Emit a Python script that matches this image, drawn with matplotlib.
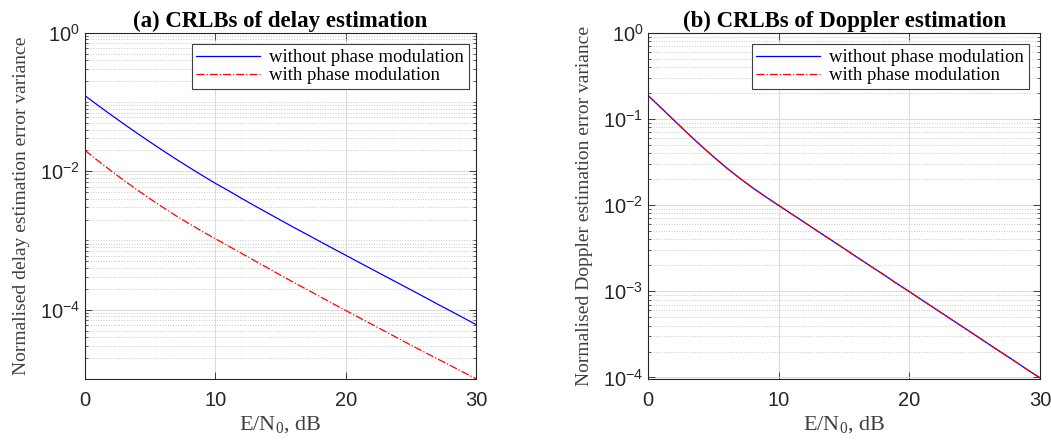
import matplotlib
matplotlib.use('Agg')
import matplotlib.pyplot as plt
from matplotlib.ticker import LogLocator, NullFormatter

plt.rcParams['font.family'] = ['Liberation Sans', 'DejaVu Sans']

# E/N0 in dB, 0..30
snr_db = list(range(31))

# (a) delay CRLB
delay_without = [0.1230, 0.0891, 0.0650, 0.04775, 0.03532, 0.02630, 0.01972,
                 0.01489, 0.01132, 0.00867, 0.00668, 0.00524, 0.00407, 0.00318,
                 0.00250, 0.00197, 0.00155, 0.00123, 9.73e-4, 7.71e-4, 6.12e-4,
                 4.86e-4, 3.86e-4, 3.07e-4, 2.44e-4, 1.94e-4, 1.54e-4, 1.22e-4,
                 9.7e-5, 7.7e-5, 6.12e-5]
delay_with = [0.01995, 0.01413, 0.01012, 0.00733, 0.00537, 0.00398, 0.00299,
              0.00226, 0.00174, 0.00135, 0.00106, 8.32e-4, 6.53e-4, 5.13e-4,
              4.03e-4, 3.16e-4, 2.49e-4, 1.97e-4, 1.56e-4, 1.23e-4, 9.77e-5,
              7.76e-5, 6.17e-5, 4.90e-5, 3.89e-5, 3.09e-5, 2.47e-5, 1.97e-5,
              1.58e-5, 1.26e-5, 1.01e-5]

# (b) Doppler CRLB, both curves lie on top of each other
doppler_without = [0.1862, 0.1334, 0.0955, 0.0684, 0.0495, 0.0363, 0.0270,
                   0.0205, 0.01585, 0.01245, 0.00989, 0.00785, 0.00624, 0.00495,
                   0.00394, 0.00313, 0.00248, 0.00197, 0.00157, 0.00124, 9.89e-4,
                   7.85e-4, 6.24e-4, 4.95e-4, 3.94e-4, 3.13e-4, 2.48e-4, 1.97e-4,
                   1.57e-4, 1.24e-4, 9.9e-5]
doppler_with = [0.1862, 0.1334, 0.0955, 0.0684, 0.0495, 0.0363, 0.0270,
                0.0205, 0.01585, 0.01245, 0.00989, 0.00785, 0.00624, 0.00495,
                0.00394, 0.00313, 0.00248, 0.00197, 0.00157, 0.00124, 9.89e-4,
                7.85e-4, 6.24e-4, 4.95e-4, 3.94e-4, 3.13e-4, 2.48e-4, 1.97e-4,
                1.57e-4, 1.24e-4, 9.9e-5]

legend_labels = ['without phase modulation', 'with phase modulation']
x_ticks = [0, 10, 20, 30]

axcol = '#262626'
serif = ['Liberation Serif', 'DejaVu Serif']

fig = plt.figure(figsize=(10.51, 4.41), dpi=100)
ax1 = fig.add_axes([0.0809, 0.1406, 0.372, 0.7853])
ax2 = fig.add_axes([0.6168, 0.1406, 0.3727, 0.7853])


def style(ax, yticks, ylim, title, ylabel, leg_x):
    ax.set_yscale('log')
    ax.set_xlim(0, 30)
    ax.set_ylim(*ylim)
    ax.set_xticks(x_ticks)
    ax.set_yticks(yticks)
    ax.yaxis.set_minor_locator(LogLocator(base=10, subs=range(1, 10), numticks=50))
    ax.yaxis.set_minor_formatter(NullFormatter())
    ax.tick_params(which='both', direction='in', top=True, right=True,
                   colors=axcol, labelsize=14.5)
    ax.tick_params(which='major', length=5, width=0.6)
    ax.tick_params(axis='x', pad=9)
    ax.tick_params(which='minor', length=2.5, width=0.5)
    for s in ax.spines.values():
        s.set_color(axcol)
        s.set_linewidth(0.8)
    ax.grid(True, which='major', color='#dcdcdc', linewidth=0.8)
    ax.grid(True, which='minor', axis='y', color='#c8c8c8', linestyle=':', linewidth=0.7)
    ax.set_axisbelow(True)
    ax.set_title(title, fontsize=16.5, fontweight='bold', family=serif, pad=4)
    ax.set_xlabel(r'E/N$_\mathdefault{0}$, dB', fontsize=16, family=serif,
                  color='#404040', labelpad=3)
    ax.set_ylabel(ylabel, fontsize=14, family=serif, color='#404040', labelpad=7)
    leg = ax.legend(loc='upper right', bbox_to_anchor=(leg_x, 0.966),
                    prop={'family': serif, 'size': 13.5}, fancybox=False,
                    framealpha=1, edgecolor='#404040', handlelength=3.4,
                    handletextpad=0.5, borderpad=0.25, labelspacing=0.05,
                    borderaxespad=0)
    leg.get_frame().set_linewidth(0.8)


ax1.plot(snr_db, delay_without, color='b', linewidth=0.9, label=legend_labels[0])
ax1.plot(snr_db, delay_with, color='r', linestyle='-.', linewidth=0.9,
         label=legend_labels[1])
style(ax1, [1e-4, 1e-2, 1e0], (1e-5, 1), '(a) CRLBs of delay estimation',
      'Normalised delay estimation error variance', 0.982)

ax2.plot(snr_db, doppler_without, color='b', linewidth=0.9, label=legend_labels[0])
ax2.plot(snr_db, doppler_with, color='r', linestyle='-.', linewidth=0.9,
         label=legend_labels[1])
style(ax2, [1e-4, 1e-3, 1e-2, 1e-1, 1e0], (9.6e-5, 1),
      '(b) CRLBs of Doppler estimation',
      'Normalised Doppler estimation error variance', 0.972)

fig.savefig('out.png', dpi=100)
